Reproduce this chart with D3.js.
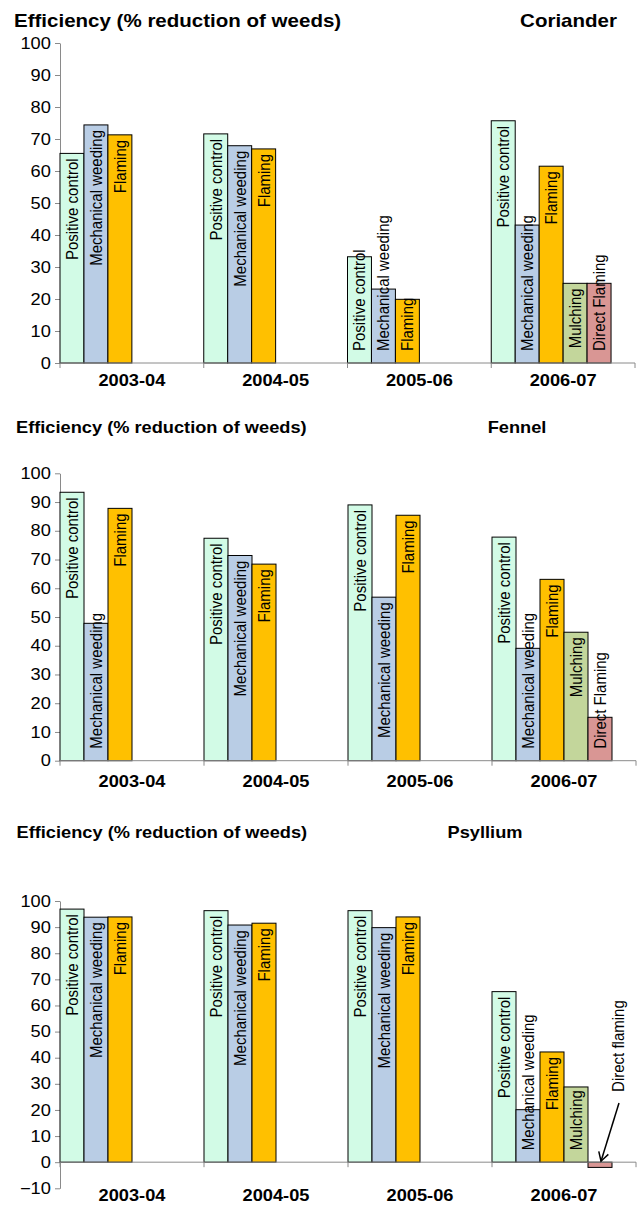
<!DOCTYPE html>
<html>
<head>
<meta charset="utf-8">
<script src="https://cdn.jsdelivr.net/npm/d3@7"></script>
<style>
  html, body { margin: 0; padding: 0; background: #fff; }
  svg { display: block; }
  text { font-family: "Liberation Sans", Arial, Helvetica, sans-serif; fill: #000; }
</style>
</head>
<body>
<svg id="chart" width="641" height="1205"></svg>
<script>
// ---------- DATA ----------
const categories = ["2003-04", "2004-05", "2005-06", "2006-07"];
const seriesNames = ["Positive control", "Mechanical weeding", "Flaming", "Mulching", "Direct Flaming"];
const yTicksMain = [0, 10, 20, 30, 40, 50, 60, 70, 80, 90, 100];
const yTicksPsyllium = [-10, 0, 10, 20, 30, 40, 50, 60, 70, 80, 90, 100];

// Coriander
const corianderPositiveControl = [65.5, 71.6, 33.2, 75.7];
const corianderMechanical      = [74.4, 67.9, 23.1, 43.1];
const corianderFlaming         = [71.3, 66.9, 19.9, 61.5];
const corianderMulching        = [null, null, null, 24.9];
const corianderDirectFlaming   = [null, null, null, 24.9];

// Fennel
const fennelPositiveControl = [93.4, 77.4, 89.0, 77.8];
const fennelMechanical      = [47.8, 71.4, 56.9, 39.1];
const fennelFlaming         = [87.8, 68.4, 85.4, 63.1];
const fennelMulching        = [null, null, null, 44.7];
const fennelDirectFlaming   = [null, null, null, 15.1];

// Psyllium
const psylliumPositiveControl = [96.9, 96.3, 96.3, 65.3];
const psylliumMechanical      = [93.8, 90.8, 89.8, 20.1];
const psylliumFlaming         = [93.9, 91.5, 93.9, 42.2];
const psylliumMulching        = [null, null, null, 28.8];
const psylliumDirectFlaming   = [null, null, null, -2.0];

const yTitle = "Efficiency (% reduction of weeds)";
const cropNames = ["Coriander", "Fennel", "Psyllium"];
const psylliumAnnotation = "Direct flaming";

// ---------- STYLE / LAYOUT ----------
const colors = ["#d2fbe6", "#b9cde5", "#ffc000", "#c3d69b", "#d99694"];
const axisColor = "#8a8a8a";
const SX = 1.14; // horizontal text stretch seen in the reference

const panels = [
  { crop: cropNames[0], series: [corianderPositiveControl, corianderMechanical, corianderFlaming, corianderMulching, corianderDirectFlaming],
    yDomain: [0, 100], yRange: [363, 43], ticks: yTicksMain, xRange: [60, 635],
    titleX: 14, titleY: 27, titleSize: 18, cropX: 617, cropAnchor: "end", cropY: 27, cropSize: 18, catLabelY: 386 },
  { crop: cropNames[1], series: [fennelPositiveControl, fennelMechanical, fennelFlaming, fennelMulching, fennelDirectFlaming],
    yDomain: [0, 100], yRange: [760.7, 473.3], ticks: yTicksMain, xRange: [60, 636],
    titleX: 16, titleY: 433, titleSize: 16, cropX: 517, cropAnchor: "middle", cropY: 433, cropSize: 16, catLabelY: 787 },
  { crop: cropNames[2], series: [psylliumPositiveControl, psylliumMechanical, psylliumFlaming, psylliumMulching, psylliumDirectFlaming],
    yDomain: [-10, 100], yRange: [1188.3, 901], ticks: yTicksPsyllium, xRange: [60, 636],
    titleX: 16.5, titleY: 838, titleSize: 16, cropX: 485, cropAnchor: "middle", cropY: 838, cropSize: 16, catLabelY: 1201,
    annotateNegative: true }
];

const svg = d3.select("#chart");

function stretchedText(g, x, y, str, size, anchor, bold) {
  return g.append("text")
    .attr("transform", `translate(${x},${y}) scale(${SX},1)`)
    .attr("text-anchor", anchor)
    .style("font-size", size + "px")
    .style("font-weight", bold ? "bold" : "normal")
    .text(str);
}

panels.forEach(p => {
  const g = svg.append("g");
  const y = d3.scaleLinear().domain(p.yDomain).range(p.yRange);
  const x = d3.scaleBand().domain(categories).range(p.xRange).paddingInner(0).paddingOuter(0);
  const inner = d3.scaleBand().domain([...seriesNames, "_gap"]).range([0, x.bandwidth()]).padding(0);
  const y0 = y(0);

  // titles
  stretchedText(g, p.titleX, p.titleY, yTitle, p.titleSize, "start", true);
  stretchedText(g, p.cropX, p.cropY, p.crop, p.cropSize, p.cropAnchor, true);

  // y axis
  const yAxis = d3.axisLeft(y).tickValues(p.ticks).tickSize(5).tickSizeOuter(0).tickPadding(3).tickFormat(d3.format("d"));
  const ya = g.append("g").attr("transform", `translate(${p.xRange[0]},0)`).call(yAxis);
  ya.select(".domain").attr("stroke", axisColor);
  ya.selectAll(".tick line").attr("stroke", axisColor);
  ya.selectAll(".tick text")
    .attr("font-family", null)
    .style("font-size", "16px")
    .attr("transform", `scale(${SX},1)`);

  // bars
  p.series.forEach((vals, si) => {
    vals.forEach((v, ci) => {
      if (v === null) return;
      const bx = x(categories[ci]) + inner(seriesNames[si]);
      const bw = inner.bandwidth();
      g.append("rect")
        .attr("x", bx).attr("width", bw)
        .attr("y", Math.min(y(v), y0)).attr("height", Math.abs(y(v) - y0))
        .attr("fill", colors[si]).attr("stroke", "#000").attr("stroke-width", 1);
    });
  });

  // x axis (at zero) with boundary ticks
  const xa = g.append("g");
  xa.append("line").attr("x1", p.xRange[0]).attr("x2", p.xRange[1]).attr("y1", y0).attr("y2", y0)
    .attr("stroke", axisColor);
  const bounds = categories.map(c => x(c)).concat([x.range()[1]]);
  xa.selectAll("line.bt").data(bounds).join("line").attr("class", "bt")
    .attr("x1", d => d).attr("x2", d => d).attr("y1", y0).attr("y2", y0 + 5).attr("stroke", axisColor);
  categories.forEach(c => {
    stretchedText(xa, x(c) + x.bandwidth() / 2, p.catLabelY, c, 16, "middle", true);
  });

  // bar labels
  p.series.forEach((vals, si) => {
    vals.forEach((v, ci) => {
      if (v === null || v <= 0) return;
      const cx = x(categories[ci]) + inner(seriesNames[si]) + inner.bandwidth() / 2;
      const t = g.append("text")
        .attr("text-anchor", "start")
        .attr("dy", "0.35em")
        .style("font-size", "15px")
        .text(seriesNames[si]);
      const len = t.node().getComputedTextLength();
      let top = y(v) + 5;
      if (top + len > y0 - 12) top = y0 - 12 - len;
      t.attr("transform", `translate(${cx},${top + len}) scale(${SX},1) rotate(-90)`);
    });
  });

  // annotation for negative bar (Psyllium)
  if (p.annotateNegative) {
    const ci = 3, si = 4;
    const bx = x(categories[ci]) + inner(seriesNames[si]);
    const bw = inner.bandwidth();
    const lx = bx + bw + 6;
    const lblBottom = y(26.9);
    g.append("text")
      .attr("text-anchor", "start").attr("dy", "0.35em")
      .style("font-size", "15px")
      .attr("transform", `translate(${lx},${lblBottom}) scale(${SX},1) rotate(-90)`)
      .text(psylliumAnnotation);
    const sx = lx + 1, sy = lblBottom + 11;
    const tx = bx + bw / 2 + 1, ty = y0 - 1;
    g.append("line").attr("x1", sx).attr("y1", sy).attr("x2", tx).attr("y2", ty)
      .attr("stroke", "#000").attr("stroke-width", 1.5);
    const ang = Math.atan2(sy - ty, sx - tx);
    const L = 10, a = Math.PI / 6;
    const w1 = [tx + L * Math.cos(ang - a), ty + L * Math.sin(ang - a)];
    const w2 = [tx + L * Math.cos(ang + a), ty + L * Math.sin(ang + a)];
    g.append("path")
      .attr("d", d3.line()([w1, [tx, ty], w2]))
      .attr("fill", "none").attr("stroke", "#000").attr("stroke-width", 1.5);
  }
});
</script>
</body>
</html>
